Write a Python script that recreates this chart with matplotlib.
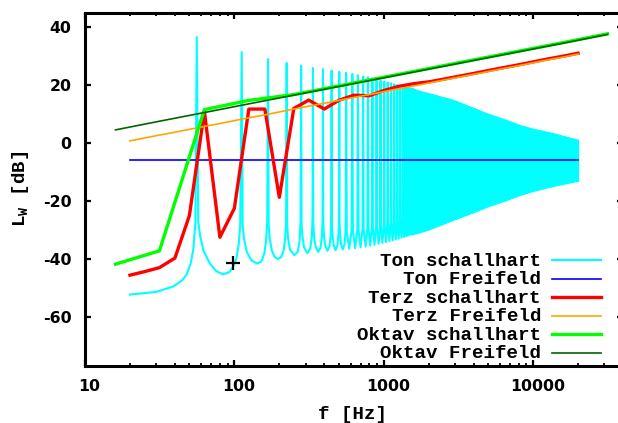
import matplotlib
matplotlib.use("Agg")
import matplotlib.pyplot as plt
from matplotlib.lines import Line2D
from matplotlib.ticker import LogLocator, NullFormatter
import matplotlib.transforms as mtransforms

plt.rcParams['axes.unicode_minus'] = False

# ---------------- data ----------------
# Ton schallhart (cyan) - low-frequency part, point by point
ton_f = [20, 30, 39, 45, 48, 51, 53, 54.8, 56,
         57.3, 59, 62, 68.5, 76, 84, 92, 98, 103, 107, 109.5, 112,
         113.6, 116, 121, 130, 142, 152, 159, 163.5, 166, 168,
         169.6, 172.5, 178, 186, 196, 206, 214, 219, 222, 224,
         225.6, 229, 236, 252, 266, 273, 277.5, 280,
         281.6, 285, 293, 308, 322, 330, 333.8, 336,
         337.6, 341.5, 350, 364, 378, 386, 389.8, 392,
         393.6, 398, 406, 420, 434, 442, 445.8, 448,
         449.6, 454, 462, 476, 490, 498, 501.8, 504,
         505.6, 510, 518, 532, 546, 554, 557.8, 560]
ton_L = [-52.3, -51.4, -49.5, -47.3, -45.3, -41.5, -37, -28, 36.7,
         -27, -32, -37, -41.6, -44.3, -45.3, -44.6, -42.8, -40, -35, -28, 31.5,
         -28, -33, -37.5, -40.5, -41.6, -40.8, -38, -33, -27, 29.1,
         -28, -33, -37, -39.3, -40, -39.3, -37, -32.5, -27, 27.7,
         -28, -33, -36.8, -38.7, -37.5, -34, -27, 26.8,
         -27, -32, -36, -38, -36.5, -32.5, -26, 26.0,
         -27, -32, -35.8, -37.6, -36, -32, -26, 25.6,
         -27, -32, -35.5, -37.2, -35.6, -31.6, -26, 25.1,
         -27, -31.8, -35.2, -37, -35.3, -31.3, -26, 24.7,
         -26.5, -31.5, -35, -36.7, -35, -31, -25.5, 24.3]

# Ton schallhart - mid range: each trough as (left flank, bottom, right flank), then the next peak
ton_u_f = [(566, 588, 610), (622, 644, 666), (678, 700, 722), (734, 756, 778),
           (790, 812, 834), (846, 868, 890), (902, 924, 946), (958, 980, 1002),
           (1014, 1036, 1058), (1070, 1092, 1114), (1126, 1148, 1170),
           (1182, 1204, 1226), (1238, 1260, 1282), (1294, 1316, 1338),
           (1350, 1372, 1394), (1406, 1428, 1450), (1462, 1484, 1506),
           (1518, 1540, 1562)]
ton_u_L = [(-30.5, -36.5, -30.0), (-30.3, -36.3, -29.8), (-30.0, -36.0, -29.5),
           (-29.7, -35.7, -29.2), (-29.4, -35.4, -28.9), (-29.1, -35.1, -28.6),
           (-28.8, -34.8, -28.3), (-28.5, -34.5, -28.0), (-28.2, -34.2, -27.7),
           (-27.9, -33.9, -27.4), (-27.6, -33.6, -27.1), (-27.3, -33.3, -26.8),
           (-27.0, -33.0, -26.5), (-26.7, -32.7, -26.2), (-26.4, -32.4, -25.9),
           (-26.1, -32.1, -25.6), (-25.8, -31.8, -25.3), (-25.5, -31.5, -25.0)]
ton_peak_f = [616, 672, 728, 784, 840, 896, 952, 1008, 1064, 1120,
              1176, 1232, 1288, 1344, 1400, 1456, 1512, 1568]
ton_peak_L = [23.9, 23.5, 23.1, 22.8, 22.4, 22.0, 21.6, 21.3, 21.0, 20.7,
              20.4, 20.1, 19.9, 19.6, 19.4, 19.2, 19.0, 18.8]

# Ton schallhart - dense high-frequency band (upper / lower envelope)
band_f = [1540, 1742, 2000, 2911, 4000, 4864, 6500, 8130, 10000, 13590, 16000, 20000]
band_hi = [19.0, 18.1, 17.3, 15.0, 12.2, 10.4, 8.2, 6.3, 5.0, 3.5, 2.5, 1.2]
band_lo = [-31.5, -30.8, -29.8, -26.5, -23.8, -22.0, -19.8, -17.9, -16.5, -14.8, -14.0, -13.0]

# Ton Freifeld (blue)
tonfrei_f = [20, 20000]
tonfrei_L = [-5.9, -5.9]

# Terz (third-octave bands)
terz_f = [20, 25, 31.5, 40, 50, 63, 80, 100, 125, 160, 200, 250, 315, 400, 500, 630,
          800, 1000, 1250, 1600, 2000, 2500, 3150, 4000, 5000, 6300, 8000, 10000,
          12500, 16000, 20000]
terz_hart = [-45.6, -44.4, -43.0, -39.7, -25.0, 11.0, -32.5, -22.5, 11.8, 11.8, -18.7,
             12.0, 14.9, 11.8, 14.8, 16.6, 16.4, 18.2, 19.6, 20.6, 21.2, 22.1, 23.1,
             24.1, 25.1, 26.1, 27.1, 28.1, 29.1, 30.1, 31.1]
terz_frei = [0.8, 1.8, 2.8, 3.8, 4.8, 5.8, 6.8, 7.8, 8.8, 9.8, 10.8, 11.8, 12.8, 13.8,
             14.8, 15.8, 16.8, 17.8, 18.8, 19.8, 20.8, 21.8, 22.8, 23.8, 24.8, 25.8,
             26.8, 27.8, 28.8, 29.8, 30.8]

# Oktav (octave bands)
okt_f = [16, 31.5, 63, 125, 250, 500, 1000, 2000, 4000, 8000, 16000, 31500]
okt_hart = [-41.8, -37.2, 11.6, 14.8, 16.8, 19.8, 22.8, 25.8, 28.8, 31.8, 34.8, 37.8]
okt_frei = [4.6, 7.6, 10.6, 13.6, 16.6, 19.6, 22.6, 25.6, 28.6, 31.6, 34.6, 37.6]

# marked point
mark_f = [98]
mark_L = [-41.5]

xticks = [10, 100, 1000, 10000]
xticklabels = ["10", "100", "1000", "10000"]
yticks = [-60, -40, -20, 0, 20, 40]
yticklabels = ["-60", "-40", "-20", "0", "20", "40"]

labels = ["Ton schallhart", "Ton Freifeld", "Terz schallhart",
          "Terz Freifeld", "Oktav schallhart", "Oktav Freifeld"]
colors = ["#00FFFF", "#0000FF", "#FF0000", "#FFA500", "#00FF00", "#006400"]
widths = [1.5, 1.2, 2.4, 1.2, 2.4, 1.2]

# ---------------- figure ----------------
W, H = 618, 423
fig = plt.figure(figsize=(W / 100, H / 100), dpi=100)
L_px, R_px, T_px, B_px = 85, 623, 13, 366
ax = fig.add_axes([L_px / W, 1 - B_px / H, (R_px - L_px) / W, (B_px - T_px) / H])
ax.set_xscale('log')
ax.set_xlim(10, 40000)
ax.set_ylim(-77, 45)

# Ton schallhart
mid_f = []
mid_L = []
for uf, ul, pf, pl in zip(ton_u_f, ton_u_L, ton_peak_f, ton_peak_L):
    mid_f += list(uf) + [pf]
    mid_L += list(ul) + [pl]
ax.plot(ton_f + mid_f, ton_L + mid_L, color=colors[0], lw=widths[0], zorder=2)
ax.fill_between(band_f, band_lo, band_hi, color=colors[0], lw=0.8,
                edgecolor=colors[0], zorder=2)

ax.plot(tonfrei_f, tonfrei_L, color=colors[1], lw=widths[1], zorder=3)
ax.plot(terz_f, terz_hart, color=colors[2], lw=widths[2], zorder=4)
ax.plot(terz_f, terz_frei, color=colors[3], lw=widths[3], zorder=5)
ax.plot(okt_f, okt_hart, color=colors[4], lw=widths[4], zorder=6)
ax.plot(okt_f, okt_frei, color=colors[5], lw=widths[5], zorder=7)
ax.plot(mark_f, mark_L, marker='+', ms=10, mew=1.6, color='black', ls='none', zorder=8)

# axes styling
for s in ax.spines.values():
    s.set_linewidth(2.2)
    s.set_zorder(10)
ax.set_xticks(xticks)
ax.set_xticklabels(xticklabels)
ax.xaxis.set_minor_locator(LogLocator(base=10, subs=range(2, 10)))
ax.xaxis.set_minor_formatter(NullFormatter())
ax.set_yticks(yticks)
ax.set_yticklabels(yticklabels)
ax.tick_params(which='both', direction='in', top=True, right=True, colors='black')
ax.tick_params(which='major', length=4, width=1.6)
ax.tick_params(which='minor', length=2.5, width=1.3)
ax.tick_params(axis='x', which='major', pad=9.7)
ax.tick_params(axis='y', which='major', pad=9.6)
tickfont = dict(family='DejaVu Sans', weight='bold', size=11.3)
for lab in ax.get_xticklabels() + ax.get_yticklabels():
    lab.set_fontproperties(matplotlib.font_manager.FontProperties(**tickfont))
offset = mtransforms.ScaledTranslation(4.5 / 100, 0, fig.dpi_scale_trans)
for lab in ax.get_xticklabels():
    lab.set_transform(lab.get_transform() + offset)

mono = dict(family='Liberation Mono', weight='bold', size=13.8)

# axis labels
fig.text(352.5 / W, 1 - 419 / H, "f [Hz]", ha='center', va='baseline', **mono)
fig.text(20.8 / W, 1 - 189 / H, r"L$_\mathregular{W}$ [dB]", rotation=90,
         ha='center', va='center', **mono)

# legend (gnuplot style: text right-aligned, sample on the right)
def ax_x(px):
    return (px - L_px) / (R_px - L_px)

def ax_y(py):
    return (B_px - py) / (B_px - T_px)

for i, (lab, c, w) in enumerate(zip(labels, colors, widths)):
    yl = 260 + 18.5 * i
    ax.text(ax_x(541), ax_y(yl + 5.5), lab, ha='right', va='baseline',
            transform=ax.transAxes, zorder=11, **mono)
    ax.add_line(Line2D([ax_x(551.7), ax_x(600.7)], [ax_y(yl), ax_y(yl)],
                       color=c, lw=w, transform=ax.transAxes, zorder=11))

fig.savefig("out.png", dpi=100)
